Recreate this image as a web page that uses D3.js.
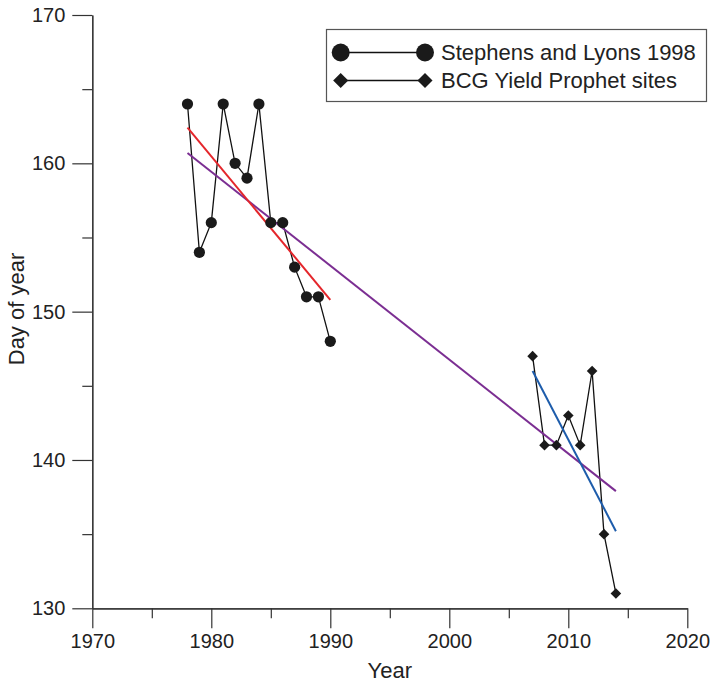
<!DOCTYPE html>
<html>
<head>
<meta charset="utf-8">
<script src="https://cdn.jsdelivr.net/npm/d3@7"></script>
<style>
  body { margin: 0; background: #fff; }
  svg { font-family: "Liberation Sans", Arial, sans-serif; }
</style>
</head>
<body>
<svg id="chart" width="711" height="683"></svg>
<script>
// data
var slYears = [1978, 1979, 1980, 1981, 1982, 1983, 1984, 1985, 1986, 1987, 1988, 1989, 1990];
var slDays = [164, 154, 156, 164, 160, 159, 164, 156, 156, 153, 151, 151, 148];
var bcgYears = [2007, 2008, 2009, 2010, 2011, 2012, 2013, 2014];
var bcgDays = [147, 141, 141, 143, 141, 146, 135, 131];

// trend line end points
var slTrend = [[1978, 162.4], [1990, 150.8]];
var bcgTrend = [[2007, 146.0], [2014, 135.2]];
var allTrend = [[1978, 160.7], [2014, 137.9]];

var xMajor = [1970, 1980, 1990, 2000, 2010, 2020];
var xMinor = [1975, 1985, 1995, 2005, 2015];
var yMajor = [130, 140, 150, 160, 170];
var yMinor = [135, 145, 155, 165];

var legendLabels = ["Stephens and Lyons 1998", "BCG Yield Prophet sites"];

var axisColor = "#333";

var svg = d3.select("#chart");

var x = d3.scaleLinear().domain([1970, 2020]).range([92.3, 687.3]);
var y = d3.scaleLinear().domain([130, 170]).range([608.3, 15]);

function styleAxis(g) {
    g.select(".domain").attr("stroke", axisColor).attr("stroke-width", 1.2);
    g.selectAll(".tick line").attr("stroke", axisColor).attr("stroke-width", 1.2);
    g.selectAll(".tick text").attr("fill", "#222").style("font-size", "20px")
        .style("font-family", "'Liberation Sans', Arial, sans-serif");
}

// x axis
svg.append("g")
    .attr("transform", "translate(0," + y(130) + ")")
    .call(d3.axisBottom(x).tickValues(xMinor).tickSize(10).tickFormat("").tickSizeOuter(0))
    .call(styleAxis);
svg.append("g")
    .attr("transform", "translate(0," + y(130) + ")")
    .call(d3.axisBottom(x).tickValues(xMajor).tickSize(20).tickPadding(6).tickFormat(d3.format("d")).tickSizeOuter(0))
    .call(styleAxis);

// y axis
svg.append("g")
    .attr("transform", "translate(" + x(1970) + ",0)")
    .call(d3.axisLeft(y).tickValues(yMinor).tickSize(10).tickFormat("").tickSizeOuter(0))
    .call(styleAxis);
svg.append("g")
    .attr("transform", "translate(" + x(1970) + ",0)")
    .call(d3.axisLeft(y).tickValues(yMajor).tickSize(20).tickPadding(7).tickFormat(d3.format("d")).tickSizeOuter(0))
    .call(styleAxis);

// axis titles
svg.append("text")
    .attr("x", (x(1970) + x(2020)) / 2)
    .attr("y", 678)
    .attr("text-anchor", "middle")
    .style("font-size", "22px")
    .attr("fill", "#222")
    .text("Year");

svg.append("text")
    .attr("transform", "translate(24," + 309 + ") rotate(-90)")
    .attr("text-anchor", "middle")
    .style("font-size", "22px")
    .attr("fill", "#222")
    .text("Day of year");

var line = d3.line()
    .x(function (d) { return x(d[0]); })
    .y(function (d) { return y(d[1]); });

var slData = slYears.map(function (yr, i) { return [yr, slDays[i]]; });
var bcgData = bcgYears.map(function (yr, i) { return [yr, bcgDays[i]]; });

// data lines
svg.append("path").attr("d", line(slData))
    .attr("fill", "none").attr("stroke", "#111").attr("stroke-width", 1.3);
svg.append("path").attr("d", line(bcgData))
    .attr("fill", "none").attr("stroke", "#111").attr("stroke-width", 1.3);

// trend lines
svg.append("path").attr("d", line(allTrend))
    .attr("fill", "none").attr("stroke", "#7b2e92").attr("stroke-width", 2);
svg.append("path").attr("d", line(slTrend))
    .attr("fill", "none").attr("stroke", "#e4262b").attr("stroke-width", 2);
svg.append("path").attr("d", line(bcgTrend))
    .attr("fill", "none").attr("stroke", "#1d5cab").attr("stroke-width", 2);

// markers
svg.selectAll("circle.sl")
    .data(slData)
    .enter().append("circle")
    .attr("class", "sl")
    .attr("cx", function (d) { return x(d[0]); })
    .attr("cy", function (d) { return y(d[1]); })
    .attr("r", 5.6)
    .attr("fill", "#1a1a1a");

var diamond = d3.symbol().type(d3.symbolDiamond2).size(72);
svg.selectAll("path.bcg")
    .data(bcgData)
    .enter().append("path")
    .attr("class", "bcg")
    .attr("d", diamond)
    .attr("transform", function (d) { return "translate(" + x(d[0]) + "," + y(d[1]) + ")"; })
    .attr("fill", "#1a1a1a");

// legend
var legend = svg.append("g");
legend.append("rect")
    .attr("x", 326.5).attr("y", 29.5)
    .attr("width", 380).attr("height", 72)
    .attr("fill", "#fff").attr("stroke", "#555").attr("stroke-width", 1.2);

var rowY = [52.5, 80.5];
var lx1 = 340.7, lx2 = 425;

legend.selectAll("line.leg")
    .data(rowY)
    .enter().append("line")
    .attr("x1", lx1).attr("x2", lx2)
    .attr("y1", function (d) { return d; })
    .attr("y2", function (d) { return d; })
    .attr("stroke", "#111").attr("stroke-width", 1.3);

[lx1, lx2].forEach(function (lx) {
    legend.append("circle")
        .attr("cx", lx).attr("cy", rowY[0]).attr("r", 9)
        .attr("fill", "#1a1a1a");
    legend.append("path")
        .attr("d", d3.symbol().type(d3.symbolDiamond2).size(145))
        .attr("transform", "translate(" + lx + "," + rowY[1] + ")")
        .attr("fill", "#1a1a1a");
});

legend.selectAll("text.leg")
    .data(legendLabels)
    .enter().append("text")
    .attr("x", 441)
    .attr("y", function (d, i) { return rowY[i] + 7.5; })
    .style("font-size", "22px")
    .attr("fill", "#222")
    .text(function (d) { return d; });
</script>
</body>
</html>
